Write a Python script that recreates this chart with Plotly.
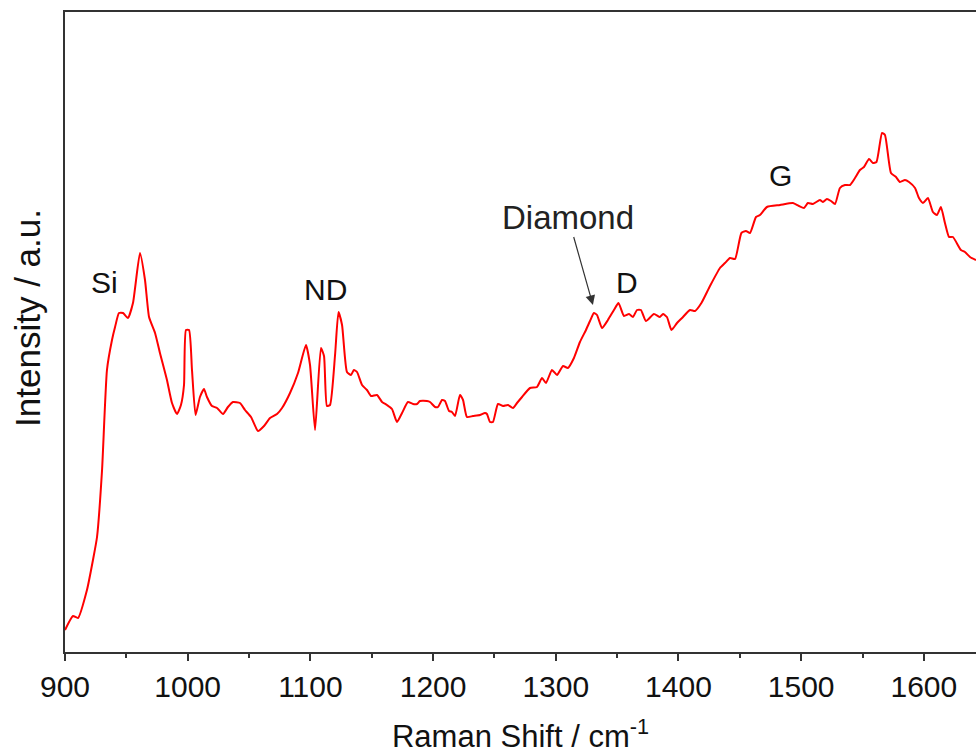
import plotly.graph_objects as go

# Raman shift (cm^-1)
raman_shift = [
    900.0, 906.5, 910.6, 917.9, 922.8, 926.1, 930.2, 934.2, 938.3, 940.8,
    944.0, 947.3, 951.3, 955.4, 961.1, 965.2, 968.5, 973.4, 977.4, 983.1,
    987.2, 991.3, 994.5, 997.0, 998.6, 1001.1, 1003.5, 1006.4, 1010.0, 1013.3,
    1015.7, 1019.8, 1023.9, 1028.8, 1032.8, 1036.9, 1042.6, 1046.7, 1051.6, 1057.3,
    1062.2, 1067.1, 1072.8, 1076.9, 1083.4, 1089.9, 1096.4, 1099.7, 1103.8, 1108.6,
    1111.1, 1113.5, 1116.0, 1120.1, 1122.9, 1125.8, 1129.8, 1133.1, 1135.5, 1138.0,
    1142.1, 1146.1, 1149.4, 1154.3, 1158.4, 1162.4, 1166.5, 1170.6, 1174.7, 1179.5,
    1183.6, 1186.9, 1189.3, 1195.0, 1197.5, 1201.6, 1204.0, 1207.3, 1209.7, 1213.0,
    1215.4, 1217.9, 1221.9, 1224.4, 1227.6, 1232.5, 1238.2, 1242.3, 1243.9, 1246.4,
    1248.8, 1252.9, 1257.0, 1261.0, 1265.1, 1268.4, 1272.5, 1279.0, 1284.7, 1288.8,
    1292.0, 1296.9, 1301.0, 1305.9, 1309.9, 1314.8, 1319.7, 1324.6, 1327.9, 1331.1,
    1333.6, 1337.7, 1342.5, 1347.4, 1351.1, 1355.6, 1359.7, 1362.9, 1366.2, 1369.4,
    1373.5, 1380.0, 1384.9, 1387.4, 1390.6, 1394.3, 1398.8, 1402.9, 1409.4, 1413.5,
    1418.7, 1425.7, 1433.8, 1437.9, 1442.0, 1446.1, 1451.3, 1455.0, 1458.3, 1463.2,
    1466.4, 1472.1, 1482.7, 1493.3, 1498.2, 1502.3, 1505.5, 1509.6, 1515.3, 1517.8,
    1521.0, 1524.3, 1527.6, 1531.6, 1535.7, 1539.8, 1543.9, 1547.9, 1551.2, 1555.3,
    1558.5, 1561.4, 1565.9, 1568.3, 1573.2, 1577.3, 1580.5, 1584.6, 1587.9, 1592.8,
    1596.0, 1599.3, 1603.3, 1607.4, 1610.7, 1613.9, 1617.2, 1620.5, 1623.7, 1630.2,
    1633.5, 1637.6, 1642.5,
]

# Intensity (a.u.)
intensity = [
    22, 36, 34, 62, 92, 115, 182, 282, 312, 325,
    339, 339, 334, 349, 399, 372, 335, 319, 299, 272,
    249, 238, 247, 267, 322, 322, 282, 237, 255, 263,
    255, 246, 244, 238, 245, 250, 249, 242, 235, 221,
    226, 234, 238, 244, 259, 279, 307, 287, 222, 304,
    296, 246, 247, 297, 340, 327, 280, 277, 282, 280,
    267, 262, 256, 257, 250, 247, 243, 230, 239, 250,
    248, 248, 251, 251, 250, 245, 245, 252, 251, 241,
    240, 236, 257, 252, 235, 236, 237, 239, 238, 230,
    230, 248, 246, 247, 244, 249, 255, 264, 265, 274,
    269, 282, 277, 286, 284, 294, 310, 322, 331, 339,
    337, 324, 332, 342, 349, 336, 338, 335, 342, 342,
    331, 338, 335, 338, 335, 322, 329, 334, 342, 341,
    349, 366, 384, 389, 394, 393, 419, 421, 419, 435,
    437, 445, 447, 449, 446, 444, 449, 448, 452, 450,
    453, 451, 448, 464, 467, 467, 474, 482, 485, 493,
    489, 490, 519, 517, 479, 475, 470, 472, 470, 464,
    454, 449, 454, 440, 437, 445, 429, 415, 415, 402,
    400, 395, 392,
]

x_ticks = [900, 1000, 1100, 1200, 1300, 1400, 1500, 1600]

peak_labels = ["Si", "ND", "D", "G"]
peak_x = [931.8, 1112.7, 1358.0, 1483.5]
peak_y = [370, 363, 370, 477]

diamond_label = "Diamond"
diamond_text_xy = (1310.0, 435)
diamond_tip_xy = (1330.3, 347)

FONT = "Liberation Sans, Arial, sans-serif"
AXIS_COLOR = "#333333"

fig = go.Figure()
fig.add_trace(go.Scatter(
    x=raman_shift, y=intensity, mode="lines",
    line=dict(color="#ff0000", width=2, shape="spline", smoothing=0.5),
    showlegend=False, hoverinfo="skip",
))

for lbl, lx, ly in zip(peak_labels, peak_x, peak_y):
    fig.add_annotation(x=lx, y=ly, text=lbl, showarrow=False,
                       xanchor="center", yanchor="middle",
                       font=dict(family=FONT, size=30, color="#111111"))

# "Diamond" label with its arrow pointing to the diamond peak
fig.add_annotation(x=diamond_tip_xy[0], y=diamond_tip_xy[1], text=diamond_label,
                   showarrow=True, axref="x", ayref="y",
                   ax=diamond_text_xy[0], ay=diamond_text_xy[1],
                   arrowhead=2, arrowsize=1.6, arrowwidth=1.2, arrowcolor="#333333",
                   font=dict(family=FONT, size=33, color="#222222"))

fig.add_annotation(xref="paper", yref="paper", x=-0.0406, y=0.522,
                   text="Intensity / a.u.", textangle=-90, showarrow=False,
                   xanchor="center", yanchor="middle",
                   font=dict(family=FONT, size=35, color="#111111"))

fig.update_layout(
    width=976, height=754,
    margin=dict(l=65, r=0, t=12, b=102),
    paper_bgcolor="white", plot_bgcolor="white",
    font=dict(family=FONT, color="#111111"),
)
fig.update_xaxes(
    range=[900, 1642.5], tickvals=x_ticks, ticktext=[str(t) for t in x_ticks],
    showgrid=False, zeroline=False,
    showline=True, linecolor=AXIS_COLOR, linewidth=2, mirror=True,
    ticks="outside", ticklen=7, tickwidth=2, tickcolor=AXIS_COLOR,
    minor=dict(dtick=50, tick0=900, ticks="outside", ticklen=4, tickwidth=2, tickcolor=AXIS_COLOR),
    tickfont=dict(family=FONT, size=30, color="#111111"),
    title=dict(text="Raman Shift / cm<sup>-1</sup>", standoff=26,
               font=dict(family=FONT, size=31, color="#111111")),
)
fig.update_yaxes(
    range=[0, 640], showgrid=False, zeroline=False,
    showline=True, linecolor=AXIS_COLOR, linewidth=2, mirror=False,
    showticklabels=False, ticks="",
)

fig.write_html("out.html")
